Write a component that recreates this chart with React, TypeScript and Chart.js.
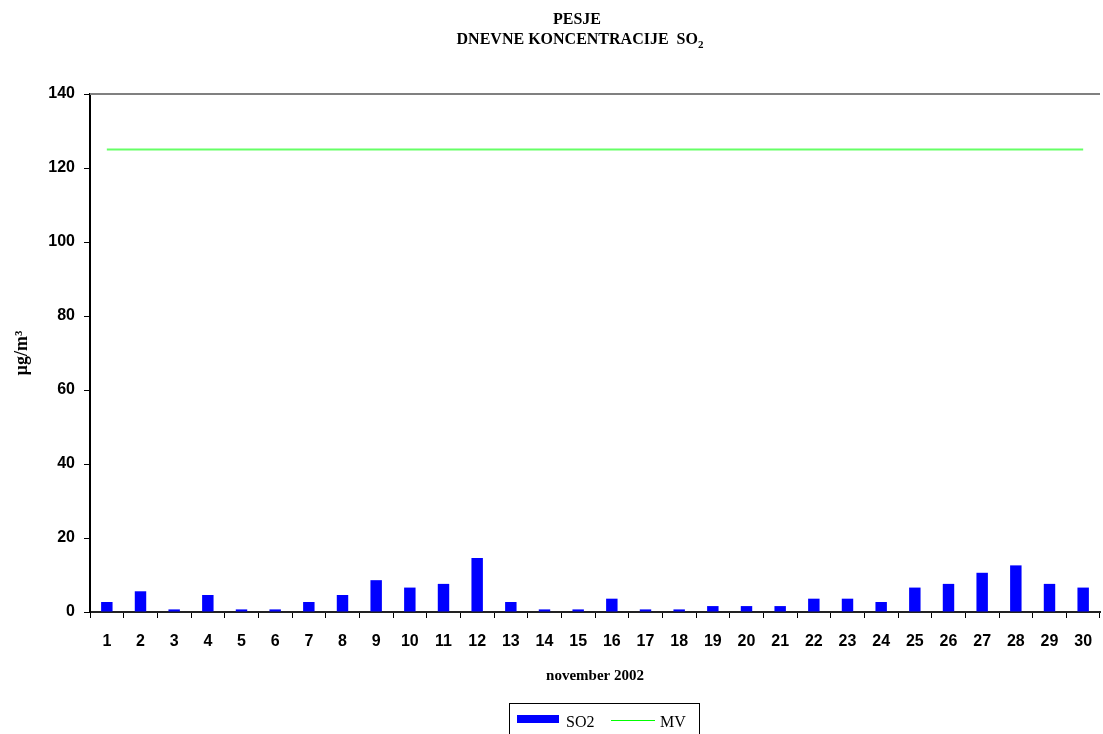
import React, { useEffect, useRef } from 'react';
import { Chart, registerables } from 'chart.js';

Chart.register(...registerables);

const days = ['1','2','3','4','5','6','7','8','9','10','11','12','13','14','15','16','17','18','19','20','21','22','23','24','25','26','27','28','29','30'];
const so2Values = [2.7, 5.6, 0.7, 4.6, 0.7, 0.7, 2.7, 4.6, 8.6, 6.6, 7.6, 14.6, 2.7, 0.7, 0.7, 3.6, 0.7, 0.7, 1.6, 1.6, 1.6, 3.6, 3.6, 2.7, 6.6, 7.6, 10.6, 12.6, 7.6, 6.6];
const mvValues = [125,125,125,125,125,125,125,125,125,125,125,125,125,125,125,125,125,125,125,125,125,125,125,125,125,125,125,125,125,125];
const titleLine1 = 'PESJE';
const titleLine2 = 'DNEVNE KONCENTRACIJE  SO';
const titleSub = '2';
const xTitle = 'november 2002';
const yTitle = 'µg/m³';
const legendLabels = ['SO2', 'MV'];

const SERIF = '"Liberation Serif", "Times New Roman", serif';
const SANS = '"Liberation Sans", Arial, sans-serif';
const BLUE = '#0000ff';
const GREEN = '#00ff00';
const MV_LINE = '#66ff66';

const decorPlugin = {
  id: 'decor',
  afterDraw(chart: any) {
    const { ctx, chartArea } = chart;
    ctx.save();
    // top border of plot area
    ctx.strokeStyle = '#808080';
    ctx.lineWidth = 2;
    ctx.beginPath();
    ctx.moveTo(chartArea.left, chartArea.top);
    ctx.lineTo(chartArea.right, chartArea.top);
    ctx.stroke();

    // title
    ctx.fillStyle = '#000';
    ctx.textBaseline = 'alphabetic';
    ctx.textAlign = 'center';
    ctx.font = 'bold 16px ' + SERIF;
    ctx.fillText(titleLine1, 577, 24);
    const mainW = ctx.measureText(titleLine2).width;
    ctx.font = 'bold 11px ' + SERIF;
    const subW = ctx.measureText(titleSub).width;
    const startX = 580 - (mainW + subW) / 2;
    ctx.textAlign = 'left';
    ctx.font = 'bold 16px ' + SERIF;
    ctx.fillText(titleLine2, startX, 44);
    ctx.font = 'bold 11px ' + SERIF;
    ctx.fillText(titleSub, startX + mainW, 48);

    // legend
    ctx.strokeStyle = '#000';
    ctx.lineWidth = 1;
    ctx.strokeRect(509.5, 703.5, 190, 40);
    ctx.fillStyle = BLUE;
    ctx.fillRect(517, 715, 42, 8);
    ctx.strokeStyle = GREEN;
    ctx.beginPath();
    ctx.moveTo(611, 720.5);
    ctx.lineTo(655, 720.5);
    ctx.stroke();
    ctx.fillStyle = '#000';
    ctx.font = '16px ' + SERIF;
    ctx.fillText(legendLabels[0], 566, 727);
    ctx.fillText(legendLabels[1], 660, 727);
    ctx.restore();
  },
};

export default function App() {
  const ref = useRef<HTMLCanvasElement | null>(null);
  useEffect(() => {
    if (!ref.current) return;
    const chart = new Chart(ref.current, {
      type: 'bar',
      data: {
        labels: days,
        datasets: [
          {
            type: 'bar',
            label: legendLabels[0],
            data: so2Values,
            backgroundColor: BLUE,
            borderWidth: 0,
            barPercentage: 0.34,
            categoryPercentage: 1.0,
            order: 2,
          },
          {
            type: 'line',
            label: legendLabels[1],
            data: mvValues,
            borderColor: MV_LINE,
            backgroundColor: MV_LINE,
            borderWidth: 2,
            pointRadius: 0,
            fill: false,
            order: 1,
          } as any,
        ],
      },
      options: {
        responsive: true,
        maintainAspectRatio: false,
        animation: false,
        layout: { padding: { top: 94, right: 3, bottom: 49, left: 0 } },
        plugins: {
          legend: { display: false },
          title: { display: false },
          tooltip: { enabled: false },
        },
        scales: {
          x: {
            offset: true,
            grid: {
              display: true,
              offset: true,
              drawOnChartArea: false,
              drawTicks: true,
              tickLength: 6,
              color: '#000',
              lineWidth: 1,
            },
            border: { display: true, color: '#222', width: 2 },
            ticks: {
              color: '#000',
              font: { family: SANS, size: 16, weight: 'bold' },
              padding: 14,
              maxRotation: 0,
              autoSkip: false,
            },
            title: {
              display: true,
              text: xTitle,
              color: '#000',
              font: { family: SERIF, size: 15, weight: 'bold' },
              padding: { top: 0, bottom: 0 },
            },
            afterFit(scale: any) {
              scale.height = 73;
              scale.paddingLeft = 0;
              scale.paddingRight = 0;
            },
          },
          y: {
            min: 0,
            max: 140,
            ticks: {
              stepSize: 20,
              color: '#000',
              font: { family: SANS, size: 16, weight: 'bold' },
              padding: 9,
            },
            grid: {
              display: true,
              drawOnChartArea: false,
              drawTicks: true,
              tickLength: 6,
              color: '#000',
            },
            border: { display: true, color: '#000', width: 2 },
            title: {
              display: true,
              text: yTitle,
              color: '#000',
              font: { family: SERIF, size: 18, weight: 'bold' },
              padding: { top: 12, bottom: 0 },
            },
            afterFit(scale: any) {
              scale.width = 90;
            },
          },
        },
      },
      plugins: [decorPlugin],
    });
    return () => chart.destroy();
  }, []);
  return (
    <div style={{ position: 'absolute', left: 0, top: 0, width: 1103, height: 734 }}>
      <canvas ref={ref} />
    </div>
  );
}
